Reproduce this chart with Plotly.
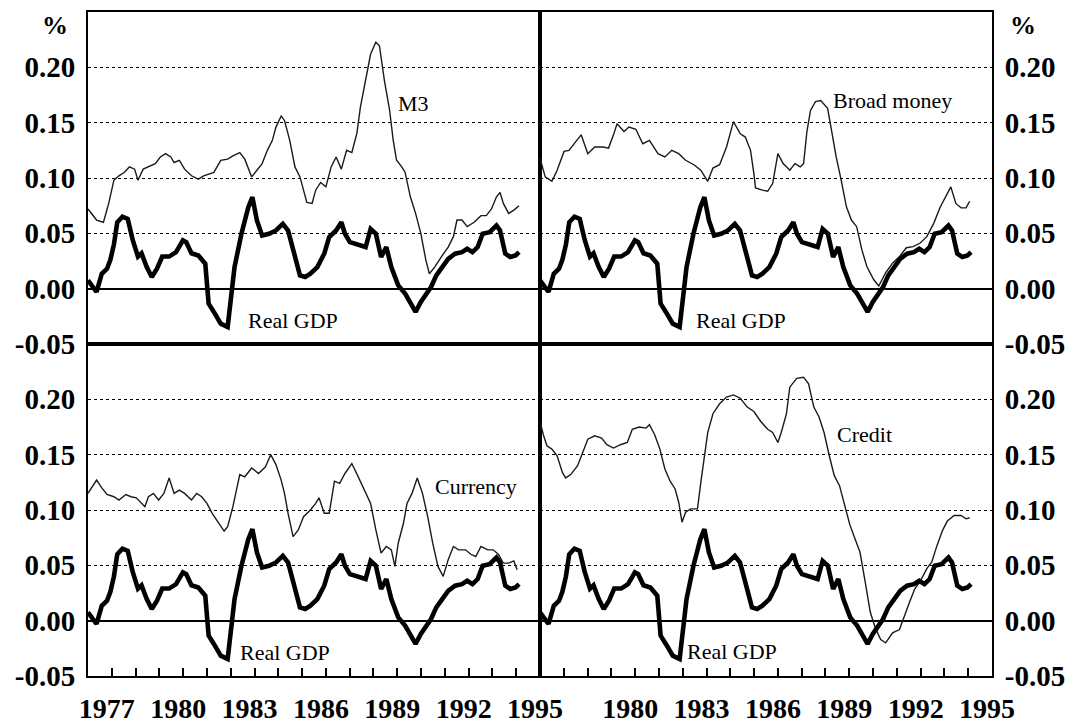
import plotly.graph_objects as go
from plotly.subplots import make_subplots

# ---------------- data ----------------
gdp_x = [1976.00, 1976.36, 1976.58, 1976.80, 1976.94, 1977.09, 1977.23, 1977.45, 1977.67, 1977.88,
         1978.10, 1978.25, 1978.46, 1978.68, 1978.90, 1979.12, 1979.41, 1979.70, 1979.99, 1980.13,
         1980.35, 1980.64, 1980.93, 1981.07, 1981.29, 1981.58, 1981.87, 1982.01, 1982.16, 1982.45,
         1982.74, 1982.91, 1983.10, 1983.32, 1983.61, 1983.90, 1984.19, 1984.41, 1984.62, 1984.77,
         1984.91, 1985.13, 1985.35, 1985.64, 1985.93, 1986.14, 1986.43, 1986.65, 1986.80, 1987.01,
         1987.38, 1987.67, 1987.88, 1988.10, 1988.32, 1988.54, 1988.75, 1989.04, 1989.33, 1989.62,
         1989.77, 1989.99, 1990.20, 1990.42, 1990.64, 1990.86, 1991.14, 1991.43, 1991.72, 1991.94,
         1992.16, 1992.38, 1992.59, 1992.88, 1993.17, 1993.32, 1993.54, 1993.75, 1993.97, 1994.12]
gdp_y = [0.0075, -0.003, 0.0135, 0.018, 0.026, 0.040, 0.060, 0.065, 0.063, 0.044,
         0.029, 0.032, 0.020, 0.0105, 0.018, 0.029, 0.029, 0.033, 0.0436, 0.042,
         0.032, 0.030, 0.0226, -0.0135, -0.021, -0.0316, -0.0346, -0.0045, 0.0195, 0.0496,
         0.0737, 0.0827, 0.0617, 0.048, 0.0496, 0.0526, 0.0586, 0.0526, 0.036, 0.0226,
         0.012, 0.0105, 0.0135, 0.0195, 0.0316, 0.0466, 0.0526, 0.060, 0.0496, 0.042,
         0.039, 0.0376, 0.054, 0.0496, 0.0286, 0.0376, 0.0195, 0.003, -0.0045, -0.015,
         -0.021, -0.012, -0.0045, 0.0015, 0.012, 0.018, 0.027, 0.0316, 0.033, 0.036,
         0.033, 0.0376, 0.0496, 0.051, 0.057, 0.0526, 0.0316, 0.0286, 0.030, 0.033]

m3_x = [1976.00, 1976.14, 1976.36, 1976.65, 1976.87, 1977.09, 1977.30, 1977.52, 1977.74, 1977.96,
        1978.10, 1978.32, 1978.54, 1978.83, 1979.04, 1979.26, 1979.48, 1979.62, 1979.84, 1980.06,
        1980.35, 1980.64, 1980.86, 1981.29, 1981.58, 1981.87, 1982.09, 1982.38, 1982.59, 1982.88,
        1983.10, 1983.32, 1983.54, 1983.75, 1983.90, 1984.12, 1984.26, 1984.48, 1984.70, 1984.91,
        1985.06, 1985.20, 1985.42, 1985.57, 1985.78, 1986.00, 1986.22, 1986.43, 1986.65, 1986.87,
        1987.09, 1987.30, 1987.45, 1987.67, 1987.88, 1988.10, 1988.25, 1988.46, 1988.68, 1988.83,
        1988.97, 1989.19, 1989.33, 1989.55, 1989.77, 1989.99, 1990.20, 1990.35, 1990.57, 1990.86,
        1991.14, 1991.36, 1991.51, 1991.72, 1991.94, 1992.23, 1992.52, 1992.74, 1992.96, 1993.17,
        1993.32, 1993.46, 1993.68, 1993.90, 1994.12]
m3_y = [0.072, 0.068, 0.062, 0.060, 0.077, 0.098, 0.102, 0.105, 0.110, 0.108,
        0.098, 0.108, 0.110, 0.113, 0.119, 0.122, 0.119, 0.114, 0.116, 0.108,
        0.102, 0.099, 0.102, 0.105, 0.116, 0.117, 0.120, 0.123, 0.117, 0.101,
        0.107, 0.113, 0.125, 0.134, 0.146, 0.156, 0.152, 0.134, 0.110, 0.101,
        0.089, 0.078, 0.077, 0.089, 0.096, 0.092, 0.110, 0.119, 0.108, 0.125,
        0.123, 0.140, 0.164, 0.188, 0.212, 0.2226, 0.2195, 0.188, 0.161, 0.134,
        0.116, 0.110, 0.105, 0.083, 0.068, 0.050, 0.026, 0.0135, 0.0195, 0.029,
        0.0376, 0.047, 0.062, 0.062, 0.056, 0.060, 0.066, 0.066, 0.072, 0.083,
        0.087, 0.077, 0.068, 0.071, 0.075]

broad_x = [1976.00, 1976.22, 1976.50, 1976.72, 1977.01, 1977.22, 1977.44, 1977.73, 1978.01, 1978.30,
           1978.66, 1978.88, 1979.09, 1979.24, 1979.53, 1979.74, 1980.03, 1980.32, 1980.60, 1980.96,
           1981.25, 1981.54, 1981.83, 1982.12, 1982.47, 1982.76, 1983.05, 1983.27, 1983.55, 1983.84,
           1984.13, 1984.42, 1984.63, 1984.85, 1984.99, 1985.06, 1985.35, 1985.57, 1985.78, 1986.00,
           1986.22, 1986.50, 1986.72, 1986.94, 1987.08, 1987.22, 1987.37, 1987.58, 1987.80, 1988.09,
           1988.23, 1988.45, 1988.66, 1988.88, 1989.09, 1989.31, 1989.53, 1989.74, 1990.03, 1990.24,
           1990.53, 1990.82, 1991.11, 1991.40, 1991.68, 1991.97, 1992.26, 1992.55, 1992.83, 1993.05,
           1993.27, 1993.48, 1993.70, 1993.91, 1994.06]
broad_y = [0.118, 0.101, 0.097, 0.107, 0.124, 0.125, 0.131, 0.139, 0.122, 0.128,
           0.128, 0.127, 0.139, 0.149, 0.142, 0.146, 0.144, 0.131, 0.134, 0.122,
           0.119, 0.125, 0.122, 0.116, 0.112, 0.107, 0.097, 0.109, 0.112, 0.128,
           0.151, 0.140, 0.137, 0.125, 0.104, 0.091, 0.089, 0.088, 0.095, 0.122,
           0.113, 0.107, 0.113, 0.110, 0.113, 0.142, 0.161, 0.169, 0.170, 0.163,
           0.146, 0.119, 0.098, 0.074, 0.062, 0.056, 0.035, 0.020, 0.008, 0.0024,
           0.0144, 0.023, 0.029, 0.037, 0.038, 0.041, 0.047, 0.059, 0.074, 0.083,
           0.092, 0.077, 0.073, 0.073, 0.079]

cur_x = [1976.00, 1976.14, 1976.36, 1976.58, 1976.80, 1977.09, 1977.30, 1977.59, 1977.81, 1978.03,
         1978.25, 1978.39, 1978.54, 1978.75, 1978.97, 1979.19, 1979.41, 1979.62, 1979.84, 1980.06,
         1980.35, 1980.57, 1980.78, 1981.00, 1981.22, 1981.51, 1981.72, 1981.87, 1982.09, 1982.38,
         1982.59, 1982.88, 1983.17, 1983.46, 1983.68, 1983.90, 1984.12, 1984.26, 1984.41, 1984.62,
         1984.84, 1985.06, 1985.35, 1985.57, 1985.71, 1985.93, 1986.14, 1986.36, 1986.58, 1986.80,
         1987.09, 1987.38, 1987.67, 1987.88, 1988.10, 1988.32, 1988.54, 1988.75, 1988.90, 1989.04,
         1989.26, 1989.41, 1989.62, 1989.84, 1990.06, 1990.28, 1990.49, 1990.71, 1990.93, 1991.14,
         1991.36, 1991.58, 1991.87, 1992.09, 1992.30, 1992.52, 1992.81, 1993.03, 1993.25, 1993.46,
         1993.68, 1993.90, 1994.04]
cur_y = [0.115, 0.120, 0.127, 0.120, 0.114, 0.112, 0.109, 0.114, 0.112, 0.111,
         0.106, 0.103, 0.112, 0.115, 0.109, 0.115, 0.129, 0.115, 0.118, 0.115,
         0.109, 0.115, 0.112, 0.106, 0.097, 0.087, 0.081, 0.085, 0.103, 0.132,
         0.130, 0.138, 0.133, 0.139, 0.150, 0.141, 0.127, 0.115, 0.097, 0.076,
         0.082, 0.094, 0.100, 0.106, 0.111, 0.097, 0.097, 0.126, 0.124, 0.133,
         0.142, 0.129, 0.115, 0.106, 0.082, 0.061, 0.067, 0.064, 0.049, 0.070,
         0.088, 0.106, 0.115, 0.129, 0.115, 0.094, 0.070, 0.049, 0.040, 0.055,
         0.067, 0.064, 0.064, 0.060, 0.058, 0.067, 0.064, 0.064, 0.060, 0.052,
         0.052, 0.054, 0.046]

credit_x = [1976.00, 1976.14, 1976.29, 1976.50, 1976.72, 1976.94, 1977.08, 1977.29, 1977.58, 1977.80,
            1978.01, 1978.30, 1978.59, 1978.81, 1979.09, 1979.38, 1979.67, 1979.88, 1980.17, 1980.46,
            1980.60, 1980.82, 1981.04, 1981.25, 1981.47, 1981.68, 1981.83, 1981.97, 1982.12, 1982.33,
            1982.62, 1982.76, 1982.91, 1983.05, 1983.27, 1983.55, 1983.84, 1984.13, 1984.42, 1984.71,
            1984.99, 1985.28, 1985.57, 1985.78, 1986.00, 1986.14, 1986.36, 1986.50, 1986.79, 1987.08,
            1987.29, 1987.51, 1987.73, 1987.94, 1988.16, 1988.37, 1988.59, 1988.81, 1989.02, 1989.24,
            1989.45, 1989.67, 1989.88, 1990.10, 1990.32, 1990.53, 1990.82, 1991.11, 1991.32, 1991.54,
            1991.76, 1991.97, 1992.26, 1992.47, 1992.69, 1992.91, 1993.12, 1993.41, 1993.70, 1993.91,
            1994.06]
credit_y = [0.180, 0.168, 0.158, 0.155, 0.149, 0.134, 0.129, 0.132, 0.140, 0.152,
            0.164, 0.167, 0.165, 0.159, 0.156, 0.159, 0.161, 0.173, 0.175, 0.174,
            0.177, 0.168, 0.155, 0.137, 0.126, 0.119, 0.107, 0.089, 0.098, 0.101,
            0.101, 0.125, 0.149, 0.170, 0.187, 0.196, 0.202, 0.204, 0.201, 0.193,
            0.189, 0.180, 0.173, 0.170, 0.161, 0.170, 0.187, 0.211, 0.219, 0.220,
            0.214, 0.193, 0.184, 0.170, 0.149, 0.131, 0.122, 0.105, 0.087, 0.074,
            0.062, 0.035, 0.008, -0.007, -0.017, -0.020, -0.011, -0.008, 0.005, 0.017,
            0.029, 0.035, 0.047, 0.053, 0.068, 0.081, 0.090, 0.095, 0.095, 0.092,
            0.093]

y_ticks = [-0.05, 0.00, 0.05, 0.10, 0.15, 0.20]
y_ticktext = ["-0.05", "0.00", "0.05", "0.10", "0.15", "0.20"]
year_ticks = list(range(1976, 1996))
left_labels = [str(y) if (y - 1977) % 3 == 0 else "" for y in year_ticks]
right_labels = [str(y) if (y - 1977) % 3 == 0 and y != 1977 else "" for y in year_ticks]

panels = [
    (1, 1, m3_x, m3_y, "M3", 1989.67, 0.167),
    (1, 2, broad_x, broad_y, "Broad money", 1990.8, 0.170),
    (2, 1, cur_x, cur_y, "Currency", 1992.33, 0.121),
    (2, 2, credit_x, credit_y, "Credit", 1989.66, 0.168),
]
gdp_label_pos = {(1, 1): (1984.6, -0.0286), (1, 2): (1984.45, -0.029),
                 (2, 1): (1984.27, -0.0285), (2, 2): (1984.07, -0.028)}

FONT = "Liberation Serif"
YTICKFONT = dict(family=FONT, size=29, color="black", weight="bold")
XTICKFONT = dict(family=FONT, size=28, color="black", weight="bold")

fig = make_subplots(rows=2, cols=2, horizontal_spacing=0, vertical_spacing=0)

for r, c, xs, ys, name, lx, ly in panels:
    fig.add_trace(go.Scatter(x=xs, y=ys, mode="lines", name=name,
                             line=dict(color="#1a1a1a", width=1.4), showlegend=False),
                  row=r, col=c)
    fig.add_trace(go.Scatter(x=gdp_x, y=gdp_y, mode="lines", name="Real GDP",
                             line=dict(color="black", width=4.6), showlegend=False),
                  row=r, col=c)
    fig.add_annotation(x=lx, y=ly, text=name, showarrow=False, xanchor="center", yanchor="middle",
                       font=dict(family=FONT, size=22, color="black"), row=r, col=c)
    gx, gy = gdp_label_pos[(r, c)]
    fig.add_annotation(x=gx, y=gy, text="Real GDP", showarrow=False, xanchor="center", yanchor="middle",
                       font=dict(family=FONT, size=22, color="black"), row=r, col=c)

    fig.update_xaxes(range=[1976, 1995], showline=True, mirror=True, linecolor="black", linewidth=2,
                     showgrid=False, zeroline=False, automargin=False, row=r, col=c)
    if r == 2:
        fig.update_xaxes(tickmode="array", tickvals=year_ticks,
                         ticktext=left_labels if c == 1 else right_labels,
                         ticks="inside", ticklen=8, tickwidth=1.5, tickcolor="black",
                         ticklabelshift=-5, ticklabelstandoff=6,
                         tickfont=XTICKFONT, row=r, col=c)
    else:
        fig.update_xaxes(showticklabels=False, ticks="", row=r, col=c)

    fig.update_yaxes(range=[-0.05, 0.25], tickmode="array", tickvals=y_ticks, ticktext=y_ticktext,
                     side="left" if c == 1 else "right",
                     showline=True, mirror=True, linecolor="black", linewidth=2,
                     showgrid=True, gridcolor="black", griddash="dot", gridwidth=1,
                     zeroline=True, zerolinecolor="black", zerolinewidth=1.6,
                     ticks="", ticklabelstandoff=5, automargin=False,
                     tickfont=YTICKFONT, row=r, col=c)

fig.add_annotation(x=-0.037, y=0.98, xref="paper", yref="paper", text="%", showarrow=False,
                   xanchor="center", yanchor="middle",
                   font=dict(family=FONT, size=26, color="black", weight="bold"))
fig.add_annotation(x=1.034, y=0.98, xref="paper", yref="paper", text="%", showarrow=False,
                   xanchor="center", yanchor="middle",
                   font=dict(family=FONT, size=26, color="black", weight="bold"))

# the page adds an 8 px body margin, so the figure is 8 px smaller and margins shifted
fig.update_layout(width=1068, height=720, margin=dict(l=80, r=84, t=4, b=52, autoexpand=False),
                  plot_bgcolor="white", paper_bgcolor="white", showlegend=False)

fig.write_html("out.html")
